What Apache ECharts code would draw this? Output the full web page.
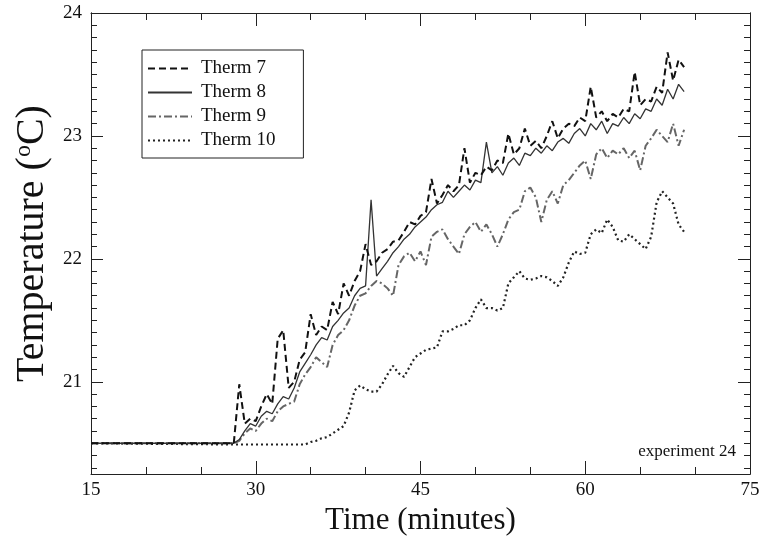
<!DOCTYPE html>
<html><head><meta charset="utf-8">
<script src="https://cdn.jsdelivr.net/npm/echarts@6/dist/echarts.min.js"></script>
<style>html,body{margin:0;padding:0;background:#fff}#c{width:764px;height:544px}</style>
</head><body><div id="c"></div>
<script>
// Time (minutes)
const times = [15,
28.0,28.5,29.0,29.5,30.0,30.5,31.0,31.5,32.0,32.5,33.0,33.5,34.0,34.5,35.0,35.5,36.0,36.5,37.0,37.5,
38.0,38.5,39.0,39.5,40.0,40.5,41.0,41.5,42.0,42.5,43.0,43.5,44.0,44.5,45.0,45.5,46.0,46.5,47.0,47.5,
48.0,48.5,49.0,49.5,50.0,50.5,51.0,51.5,52.0,52.5,53.0,53.5,54.0,54.5,55.0,55.5,56.0,56.5,57.0,57.5,
58.0,58.5,59.0,59.5,60.0,60.5,61.0,61.5,62.0,62.5,63.0,63.5,64.0,64.5,65.0,65.5,66.0,66.5,67.0,67.5,
68.0,68.5,69.0];
const therm7 = [20.5,
20.5,20.98,20.66,20.7,20.68,20.8,20.9,20.82,21.35,21.42,20.95,21.0,21.18,21.24,21.55,21.38,21.45,21.42,21.65,21.55,
21.8,21.7,21.82,21.9,22.12,21.95,21.98,22.05,22.08,22.14,22.15,22.22,22.3,22.28,22.35,22.38,22.65,22.45,22.52,22.6,
22.55,22.6,22.9,22.62,22.7,22.68,22.75,22.72,22.8,22.78,23.02,22.85,22.9,23.06,22.92,22.96,22.9,23.0,23.12,22.98,
23.06,23.1,23.08,23.15,23.12,23.4,23.15,23.2,23.12,23.18,23.15,23.22,23.2,23.52,23.25,23.3,23.28,23.4,23.35,23.68,
23.45,23.62,23.56];
const therm8 = [20.5,
20.5,20.53,20.6,20.66,20.64,20.72,20.76,20.74,20.82,20.88,20.86,20.95,21.08,21.15,21.22,21.3,21.36,21.34,21.45,21.5,
21.56,21.6,21.7,21.76,21.78,22.48,21.86,21.92,21.98,22.05,22.1,22.16,22.2,22.26,22.3,22.34,22.4,22.44,22.46,22.55,
22.5,22.55,22.6,22.56,22.64,22.62,22.95,22.7,22.75,22.68,22.78,22.82,22.76,22.86,22.84,22.9,22.86,22.92,22.88,22.95,
22.98,22.94,23.02,23.06,23.0,23.1,23.05,23.12,23.02,23.1,23.08,23.15,23.1,23.18,23.14,23.22,23.2,23.3,23.25,23.38,
23.3,23.42,23.36];
const therm9 = [20.5,
20.5,20.52,20.58,20.62,20.6,20.66,20.7,20.68,20.76,20.8,20.82,20.84,20.98,21.06,21.12,21.2,21.16,21.12,21.3,21.38,
21.42,21.5,21.62,21.7,21.72,21.78,21.82,21.8,21.76,21.7,21.95,22.02,22.05,21.98,22.06,21.95,22.18,22.22,22.24,22.16,
22.1,22.04,22.2,22.26,22.3,22.22,22.28,22.2,22.1,22.2,22.32,22.38,22.4,22.55,22.58,22.5,22.3,22.48,22.55,22.45,
22.6,22.64,22.7,22.76,22.8,22.65,22.85,22.9,22.82,22.88,22.85,22.9,22.82,22.88,22.72,22.92,22.98,23.05,23.0,22.95,
23.1,22.92,23.05];
const therm10 = [20.5,
20.49,20.49,20.49,20.49,20.49,20.49,20.49,20.49,20.49,20.49,20.49,20.49,20.49,20.49,20.51,20.52,20.54,20.55,20.58,20.61,
20.64,20.75,20.93,20.97,20.94,20.92,20.92,20.98,21.06,21.13,21.07,21.04,21.12,21.2,21.23,21.26,21.27,21.28,21.41,21.41,
21.43,21.46,21.46,21.5,21.6,21.67,21.6,21.6,21.58,21.6,21.8,21.85,21.9,21.84,21.83,21.84,21.86,21.85,21.82,21.78,
21.85,21.97,22.06,22.04,22.05,22.2,22.24,22.21,22.32,22.26,22.15,22.14,22.2,22.16,22.12,22.08,22.18,22.46,22.55,22.5,
22.45,22.28,22.22];
const seriesNames = ['Therm 7','Therm 8','Therm 9','Therm 10'];
const xTicks = [15,30,45,60,75];
const yMajor = [21,22,23,24];
const yMinor = [20.3,20.4,20.5,20.6,20.7,20.8,20.9,21.1,21.2,21.3,21.4,21.5,21.6,21.7,21.8,21.9,
22.1,22.2,22.3,22.4,22.5,22.6,22.7,22.8,22.9,23.1,23.2,23.3,23.4,23.5,23.6,23.7,23.8,23.9];

const F = '"Liberation Serif","DejaVu Serif",serif';
function pairs(v){ return times.map((t,i)=>[t,v[i]]); }
const chart = echarts.init(document.getElementById('c'), null, {renderer:'canvas'});
const axLine = {show:true, lineStyle:{color:'#222', width:1}};
const yBase = {type:'value', min:20.25, max:24, splitLine:{show:false}, axisLine:axLine};
const xBase = {type:'value', min:15, max:75, interval:15, splitLine:{show:false}, axisLine:axLine};
chart.setOption({
  animation:false,
  grid:{left:91, right:14, top:13, bottom:70, containLabel:false},
  xAxis:[
    Object.assign({}, xBase, {position:'bottom',
      name:'Time (minutes)', nameLocation:'middle', nameGap:28,
      nameTextStyle:{fontFamily:F, fontSize:31, color:'#111'},
      axisTick:{inside:true, length:13, lineStyle:{color:'#222'}},
      minorTick:{show:true, splitNumber:3, length:7, lineStyle:{color:'#222'}},
      axisLabel:{customValues:xTicks, margin:7, fontFamily:F, fontSize:19, color:'#111'}}),
    Object.assign({}, xBase, {position:'top',
      axisTick:{inside:true, length:13, lineStyle:{color:'#222'}},
      minorTick:{show:true, splitNumber:3, length:7, lineStyle:{color:'#222'}},
      axisLabel:{show:false}})
  ],
  yAxis:[
    Object.assign({}, yBase, {position:'left',
      name:'Temperature ({s|o}C)', nameLocation:'middle', nameGap:27,
      nameTextStyle:{fontFamily:F, fontSize:40, color:'#111', rich:{s:{fontFamily:F, fontSize:24, verticalAlign:'top', padding:[0,0,17,0]}}},
      axisTick:{inside:true, length:12, customValues:yMajor, lineStyle:{color:'#222'}},
      axisLabel:{customValues:yMajor, margin:9, fontFamily:F, fontSize:19, color:'#111'}}),
    Object.assign({}, yBase, {position:'left',
      axisTick:{inside:true, length:6, customValues:yMinor, lineStyle:{color:'#222'}},
      axisLabel:{show:false}}),
    Object.assign({}, yBase, {position:'right',
      axisTick:{inside:true, length:12, customValues:yMajor, lineStyle:{color:'#222'}},
      axisLabel:{show:false}}),
    Object.assign({}, yBase, {position:'right',
      axisTick:{inside:true, length:6, customValues:yMinor, lineStyle:{color:'#222'}},
      axisLabel:{show:false}})
  ],
  legend:{
    orient:'vertical', left:142, top:50, data:seriesNames,
    backgroundColor:'#fff', borderColor:'#222', borderWidth:1,
    padding:[9,28,8,5], itemGap:5, itemWidth:44, itemHeight:15,
    itemStyle:{color:'rgba(0,0,0,0)', borderColor:'rgba(0,0,0,0)', borderWidth:0, opacity:0},
    textStyle:{fontFamily:F, fontSize:19, color:'#111', padding:[0,0,0,4]}
  },
  graphic:[{type:'text', right:28, top:443, style:{text:'experiment 24', font:'17px '+F, fill:'#111'}}],
  series:[
    {name:seriesNames[0], type:'line', symbol:'none', data:pairs(therm7), z:4,
     lineStyle:{color:'#111', width:2, type:[7,4]}, itemStyle:{color:'#111'}},
    {name:seriesNames[1], type:'line', symbol:'none', data:pairs(therm8), z:3,
     lineStyle:{color:'#333', width:1.3, type:'solid'}, itemStyle:{color:'#333'}},
    {name:seriesNames[2], type:'line', symbol:'none', data:pairs(therm9), z:2,
     lineStyle:{color:'#666', width:2, type:[8,3,2,3]}, itemStyle:{color:'#666'}},
    {name:seriesNames[3], type:'line', symbol:'none', data:pairs(therm10), z:1,
     lineStyle:{color:'#222', width:2.2, type:[2,3]}, itemStyle:{color:'#222'}}
  ]
});
</script></body></html>
